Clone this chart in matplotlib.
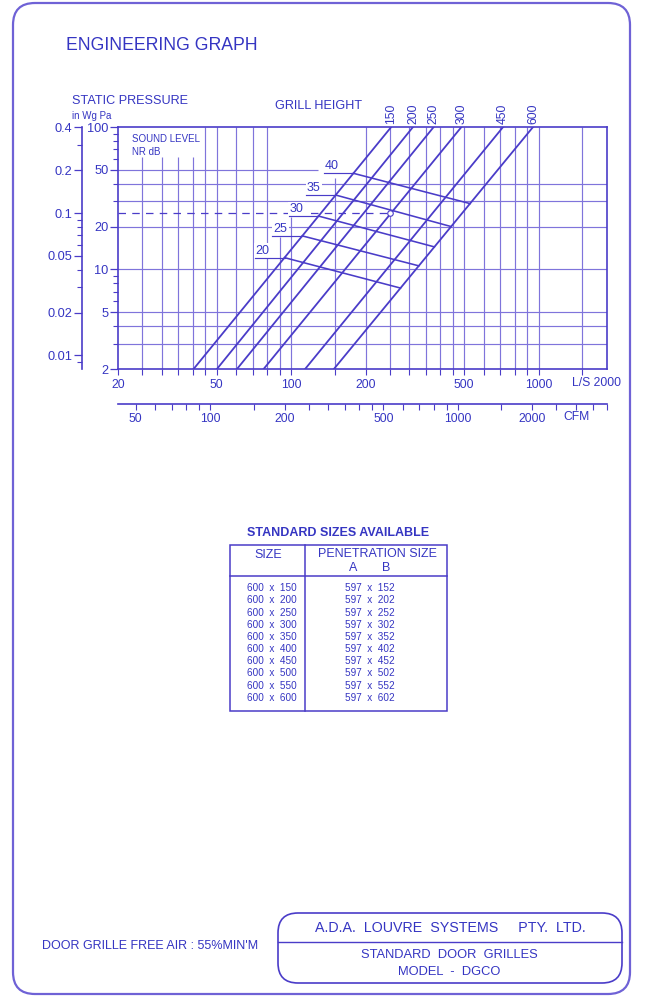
import numpy as np
import matplotlib.pyplot as plt
from matplotlib.patches import FancyBboxPatch, Rectangle
from matplotlib.ticker import (FixedLocator, FuncFormatter, LogLocator,
                               NullFormatter, NullLocator)

plt.rcParams['font.family'] = ['Liberation Sans', 'DejaVu Sans']

TXT = '#3535c2'
INK = '#4a3cc8'
GRID = '#7f74db'
FRAME = '#6f62d6'

# ---------------------------------------------------------
# values
# ---------------------------------------------------------
# grill height lines: flow (L/s) where each one meets 2 Pa and 100 Pa
grill_heights = [150, 200, 250, 300, 450, 600]
q_at_2pa = [40.4, 50.2, 60.5, 77.5, 114, 149]
q_at_100pa = [254, 311, 377, 488, 719, 950]

# NR lines: pressure (Pa) where each meets the 150 line and the 600 line
nr_levels = [20, 25, 30, 35, 40]
nr_p_start = [12.1, 17.2, 23.7, 33.3, 47.3]
nr_p_end = [7.4, 10.6, 14.4, 20.0, 29.0]

# background grid (L/s and Pa); some lines stop short of the labels
grid_flow = [25, 30, 35, 40, 45, 50, 60, 70, 80, 90, 100, 150, 200, 250,
             300, 350, 400, 450, 500, 600, 700, 800, 900, 1000, 1500]
grid_flow_top = {25: 62, 30: 62, 35: 62, 40: 62, 90: 17, 100: 23.5, 150: 44}
grid_pressure = [50, 40, 30, 20, 10, 5, 4, 3]
grid_pressure_end = {50: 128}

pa_ticks = [2, 5, 10, 20, 50, 100]
wg_ticks = [0.01, 0.02, 0.05, 0.1, 0.2, 0.4]
ls_ticks = [20, 50, 100, 200, 500, 1000]
cfm_ticks = [50, 100, 200, 500, 1000, 2000]
cfm_minor = [60, 70, 80, 90, 150, 250, 300, 350, 400, 450, 600, 700, 800,
             900, 1500, 2500, 3000, 3500, 4000]

# dashed reading example
example_flow = 250   # L/s
example_wg = 0.1     # in wg

# standard sizes table
size_a = 600
size_b = [150, 200, 250, 300, 350, 400, 450, 500, 550, 600]
pen_a = 597
pen_b = [152, 202, 252, 302, 352, 402, 452, 502, 552, 602]

PA_PER_WG = 249.0
LS_PER_CFM = 0.4719


def flow_on_line(i, p):
    t = np.log(p / 2.0) / np.log(100 / 2.0)
    return q_at_2pa[i] * (q_at_100pa[i] / q_at_2pa[i]) ** t


# ---------------------------------------------------------
# figure
# ---------------------------------------------------------
W, H = 645, 998
fig = plt.figure(figsize=(W / 100, H / 100), dpi=100)


def box(x0, y0, x1, y1):
    return [x0 / W, 1 - y1 / H, (x1 - x0) / W, (y1 - y0) / H]


ax = fig.add_axes(box(118, 127, 607, 369))
ax.set_facecolor('none')
ax.set_xscale('log')
ax.set_yscale('log')
ax.set_xlim(20, 1890)
ax.set_ylim(2, 100)
for s in ax.spines.values():
    s.set_color(INK)
    s.set_linewidth(1.2)

# grid
for q in grid_flow:
    ax.vlines(q, 2, grid_flow_top.get(q, 100), color=GRID, lw=0.85, zorder=1)
for p in grid_pressure:
    ax.hlines(p, 20, grid_pressure_end.get(p, 1890), color=GRID, lw=0.85, zorder=1)

# grill height lines
for i, h in enumerate(grill_heights):
    ax.plot([q_at_2pa[i], q_at_100pa[i]], [2, 100], color=INK, lw=1.3, zorder=4)
    ax.annotate(str(h), (q_at_100pa[i], 100), xytext=(0, 3),
                textcoords='offset pixels', rotation=90, ha='center',
                va='bottom', fontsize=8.7, color=TXT, annotation_clip=False)

# NR lines with their labels
i150 = grill_heights.index(150)
i600 = grill_heights.index(600)
for nr, p0, p1 in zip(nr_levels, nr_p_start, nr_p_end):
    q0 = flow_on_line(i150, p0)
    q1 = flow_on_line(i600, p1)
    ax.plot([q0, q1], [p0, p1], color=INK, lw=1.15, zorder=4)
    q_lead = q0 / 1.32
    ax.plot([q_lead, q0], [p0, p0], color=INK, lw=0.85, zorder=4)
    ax.annotate(str(nr), (q_lead, p0), xytext=(1, 1), textcoords='offset pixels',
                ha='left', va='bottom', fontsize=9, color=TXT, zorder=3,
                bbox=dict(boxstyle='square,pad=0.1', fc='white', ec='none'))

# dashed example reading
p_ex = example_wg * PA_PER_WG
ax.plot([20, example_flow], [p_ex, p_ex], color=INK, lw=0.9, dashes=(6, 5), zorder=2)
ax.plot(example_flow, p_ex, 'o', ms=4, mfc='white', mec=INK, mew=0.8, zorder=5)

# L/s axis
ax.xaxis.set_major_locator(FixedLocator([20] + grid_flow))
ax.xaxis.set_major_formatter(
    FuncFormatter(lambda v, pos: f'{v:g}' if round(v) in ls_ticks else ''))
ax.xaxis.set_minor_locator(NullLocator())
ax.tick_params(axis='x', which='major', direction='out', length=4, width=0.8,
               color=INK, labelcolor=TXT, labelsize=8.7, pad=3.5)

# Pa axis
ax.yaxis.set_major_locator(FixedLocator(pa_ticks))
ax.yaxis.set_major_formatter(FuncFormatter(lambda v, pos: f'{v:g}'))
ax.yaxis.set_minor_locator(LogLocator(subs=np.arange(2, 10), numticks=20))
ax.yaxis.set_minor_formatter(NullFormatter())
ax.tick_params(axis='y', which='major', length=6, width=0.9, color=INK,
               labelcolor=TXT, labelsize=9.2, pad=1)
ax.tick_params(axis='y', which='minor', length=3.5, width=0.8, color=INK)

# in Wg axis
wg = ax.secondary_yaxis(-36 / 489, functions=(lambda p: p / PA_PER_WG,
                                              lambda w: w * PA_PER_WG))
wg.yaxis.set_major_locator(FixedLocator(wg_ticks))
wg.yaxis.set_major_formatter(FuncFormatter(lambda v, pos: f'{v:g}'))
wg.yaxis.set_minor_locator(LogLocator(subs=np.arange(2, 10), numticks=20))
wg.yaxis.set_minor_formatter(NullFormatter())
wg.spines['left'].set_color(INK)
wg.spines['left'].set_linewidth(1.2)
wg.tick_params(which='major', length=6, width=0.9, color=INK,
               labelcolor=TXT, labelsize=9.2, pad=1)
wg.tick_params(which='minor', length=3.5, width=0.8, color=INK)

# CFM axis
cfm = ax.secondary_xaxis(-35 / 242, functions=(lambda q: q / LS_PER_CFM,
                                               lambda c: c * LS_PER_CFM))
cfm.xaxis.set_major_locator(FixedLocator(cfm_ticks))
cfm.xaxis.set_major_formatter(FuncFormatter(lambda v, pos: f'{v:g}'))
cfm.xaxis.set_minor_locator(FixedLocator(cfm_minor))
cfm.xaxis.set_minor_formatter(NullFormatter())
cfm.spines['bottom'].set_color(INK)
cfm.spines['bottom'].set_linewidth(1.2)
cfm.tick_params(which='both', direction='out', length=4, width=0.8, color=INK,
                labelcolor=TXT, labelsize=8.7, pad=2.5)

# ---------------------------------------------------------
# page furniture (pixel coordinates)
# ---------------------------------------------------------
pg = fig.add_axes([0, 0, 1, 1])
pg.set_xlim(0, W)
pg.set_ylim(H, 0)
pg.axis('off')

pg.add_patch(FancyBboxPatch((13, 3), 617, 991,
                            boxstyle='round,pad=0,rounding_size=22',
                            fc='none', ec=FRAME, lw=1.6))

pg.text(66, 45, 'ENGINEERING GRAPH', fontsize=12.7, color=TXT, va='center')
pg.text(72, 101, 'STATIC PRESSURE', fontsize=9.1, color=TXT, va='center')
pg.text(72, 116, 'in Wg Pa', fontsize=7, color=TXT, va='center')
pg.text(275, 106, 'GRILL HEIGHT', fontsize=9.1, color=TXT, va='center')
pg.text(132, 139, 'SOUND LEVEL', fontsize=7, color=TXT, va='center')
pg.text(132, 152, 'NR dB', fontsize=7, color=TXT, va='center')
pg.text(596, 383, 'L/S 2000', fontsize=8.7, color=TXT, ha='center', va='center')
pg.text(577, 417, 'CFM', fontsize=8.7, color=TXT, ha='center', va='center')

# sizes table
pg.text(338, 533, 'STANDARD SIZES AVAILABLE', fontsize=9, fontweight='bold',
        color=TXT, ha='center', va='center')
pg.add_patch(Rectangle((230, 545), 217, 166, fc='none', ec=INK, lw=1.1))
pg.plot([230, 447], [576, 576], color=INK, lw=1.1)
pg.plot([305, 305], [545, 711], color=INK, lw=1.1)
pg.text(268, 555, 'SIZE', fontsize=9, color=TXT, ha='center', va='center')
pg.text(377, 554, 'PENETRATION SIZE', fontsize=9, color=TXT, ha='center', va='center')
pg.text(353, 568, 'A', fontsize=9, color=TXT, ha='center', va='center')
pg.text(386, 568, 'B', fontsize=9, color=TXT, ha='center', va='center')
for k, (b, pb) in enumerate(zip(size_b, pen_b)):
    y = 588.3 + k * 12.16
    pg.text(272, y, f'{size_a}  x  {b}', fontsize=7.2, color=TXT,
            ha='center', va='center')
    pg.text(369.5, y, f'{pen_a}  x  {pb}', fontsize=7.2, color=TXT,
            ha='center', va='center')

# title block
pg.text(42, 946, "DOOR GRILLE FREE AIR : 55%MIN'M", fontsize=9, color=TXT, va='center')
pg.add_patch(FancyBboxPatch((278, 913), 344, 70,
                            boxstyle='round,pad=0,rounding_size=20',
                            fc='none', ec=INK, lw=1.2))
pg.plot([278, 622], [942, 942], color=INK, lw=1.0)
pg.text(450, 928, 'A.D.A.  LOUVRE  SYSTEMS     PTY.  LTD.', fontsize=10.3,
        color=TXT, ha='center', va='center')
pg.text(449, 955, 'STANDARD  DOOR  GRILLES', fontsize=9.3, color=TXT,
        ha='center', va='center')
pg.text(449, 972, 'MODEL  -  DGCO', fontsize=9.3, color=TXT,
        ha='center', va='center')

fig.savefig('out.png', dpi=100)
